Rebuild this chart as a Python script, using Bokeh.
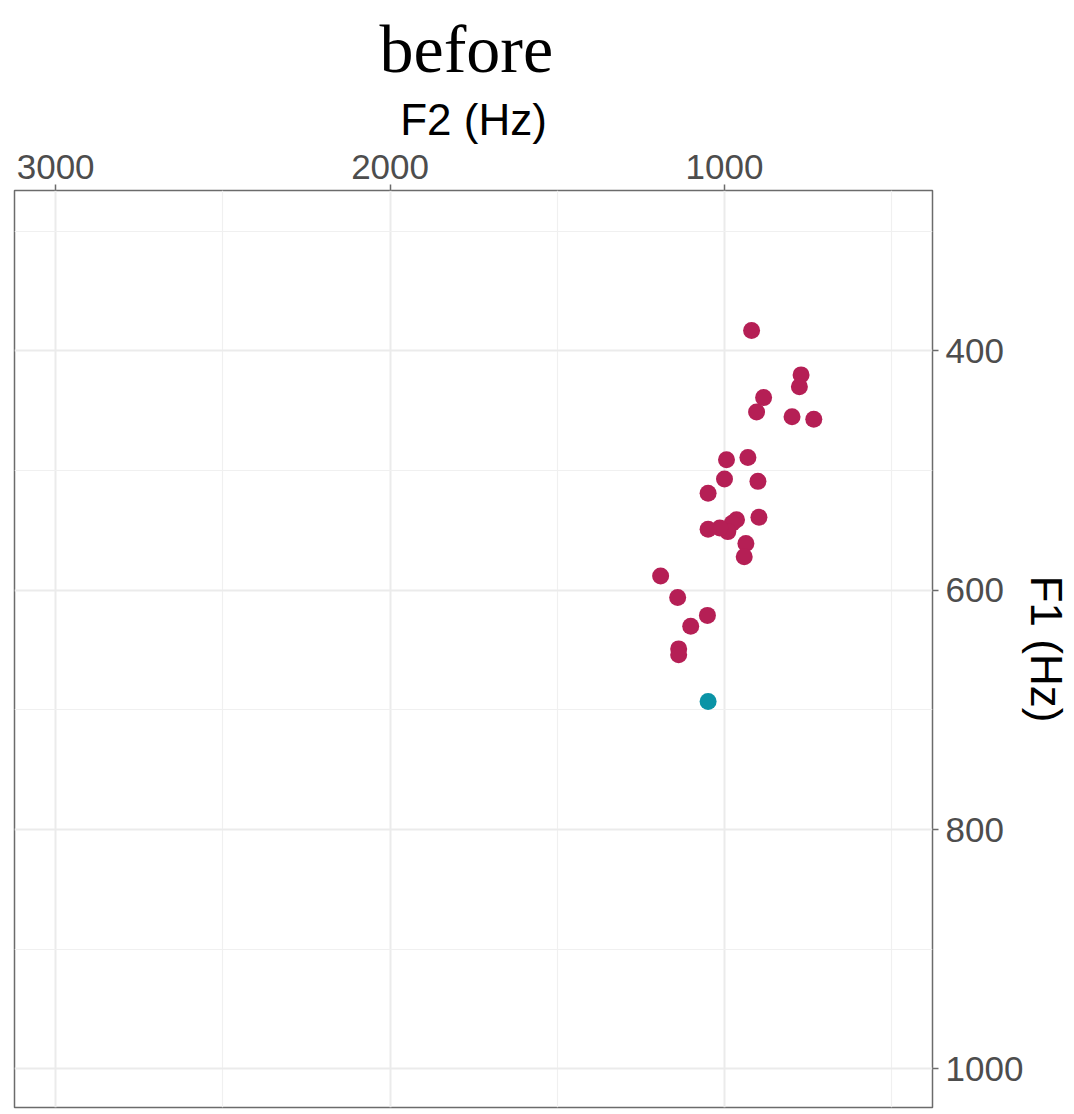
from bokeh.plotting import figure
from bokeh.models import ColumnDataSource, Range1d, FixedTicker
from bokeh.embed import file_html
from bokeh.resources import INLINE

# ---- data ----
f2_before = [919, 771, 776, 883, 904, 798, 733, 930, 994, 1000, 900, 1049,
             897, 964, 977, 990, 1014, 1049, 936, 941, 1191, 1140, 1051, 1101,
             1137, 1137]
f1_before = [383, 420, 430, 439, 451, 455, 457, 489, 491, 507, 509, 519,
             539, 541, 544, 551, 548, 549, 561, 572, 588, 606, 621, 630,
             649, 654]
f2_other = [1049]
f1_other = [693]

x_major = [1000, 2000, 3000]
x_minor = [500, 1500, 2500]
y_major = [400, 600, 800, 1000]
y_minor = [300, 500, 700, 900]

TITLE = "before"
RED = "#B51F55"
TEAL = "#0A93A6"

p = figure(width=1074, height=1114, output_backend="svg", toolbar_location=None,
           x_axis_location="above", y_axis_location="right",
           x_range=Range1d(3123, 378), y_range=Range1d(1032.3, 265.9),
           min_border_left=14, min_border_right=142, min_border_top=190,
           min_border_bottom=7)

p.title.text = TITLE
p.title.text_font = "Liberation Serif"
p.title.text_font_size = "68px"
p.title.text_font_style = "normal"
p.title.text_color = "black"
p.title.text_line_height = 0.7
p.title.align = "left"
p.title.offset = 365
p.title.standoff = 10

p.outline_line_color = "#6b6b6b"
p.outline_line_width = 1.5
p.background_fill_color = "white"
p.border_fill_color = "white"

p.xaxis.ticker = FixedTicker(ticks=x_major, minor_ticks=x_minor)
p.yaxis.ticker = FixedTicker(ticks=y_major, minor_ticks=y_minor)
p.xaxis.axis_label = "F2 (Hz)"
p.yaxis.axis_label = "F1 (Hz)"

for ax in (p.xaxis, p.yaxis):
    ax.axis_line_color = None
    ax.major_tick_line_color = "#6b6b6b"
    ax.major_tick_line_width = 1.5
    ax.major_tick_out = 6
    ax.major_tick_in = 0
    ax.minor_tick_line_color = None
    ax.major_label_text_font = "Liberation Sans"
    ax.major_label_text_font_size = "35px"
    ax.major_label_text_color = "#4D4D4D"
    ax.axis_label_text_font = "Liberation Sans"
    ax.axis_label_text_font_size = "44px"
    ax.axis_label_text_font_style = "normal"
    ax.axis_label_text_color = "black"
p.xaxis.major_label_standoff = 6
p.xaxis.axis_label_standoff = 8
p.yaxis.major_label_standoff = 7
p.yaxis.axis_label_standoff = -4

for g in (p.xgrid, p.ygrid):
    g.grid_line_color = "#EBEBEB"
    g.grid_line_width = 2
    g.minor_grid_line_color = "#F0F0F0"
    g.minor_grid_line_width = 1.2

src_a = ColumnDataSource(dict(x=f2_before, y=f1_before))
src_b = ColumnDataSource(dict(x=f2_other, y=f1_other))
p.scatter("x", "y", source=src_a, size=17, fill_color=RED, line_color=None)
p.scatter("x", "y", source=src_b, size=17, fill_color=TEAL, line_color=None)

open("out.html", "w").write(file_html(p, INLINE))
